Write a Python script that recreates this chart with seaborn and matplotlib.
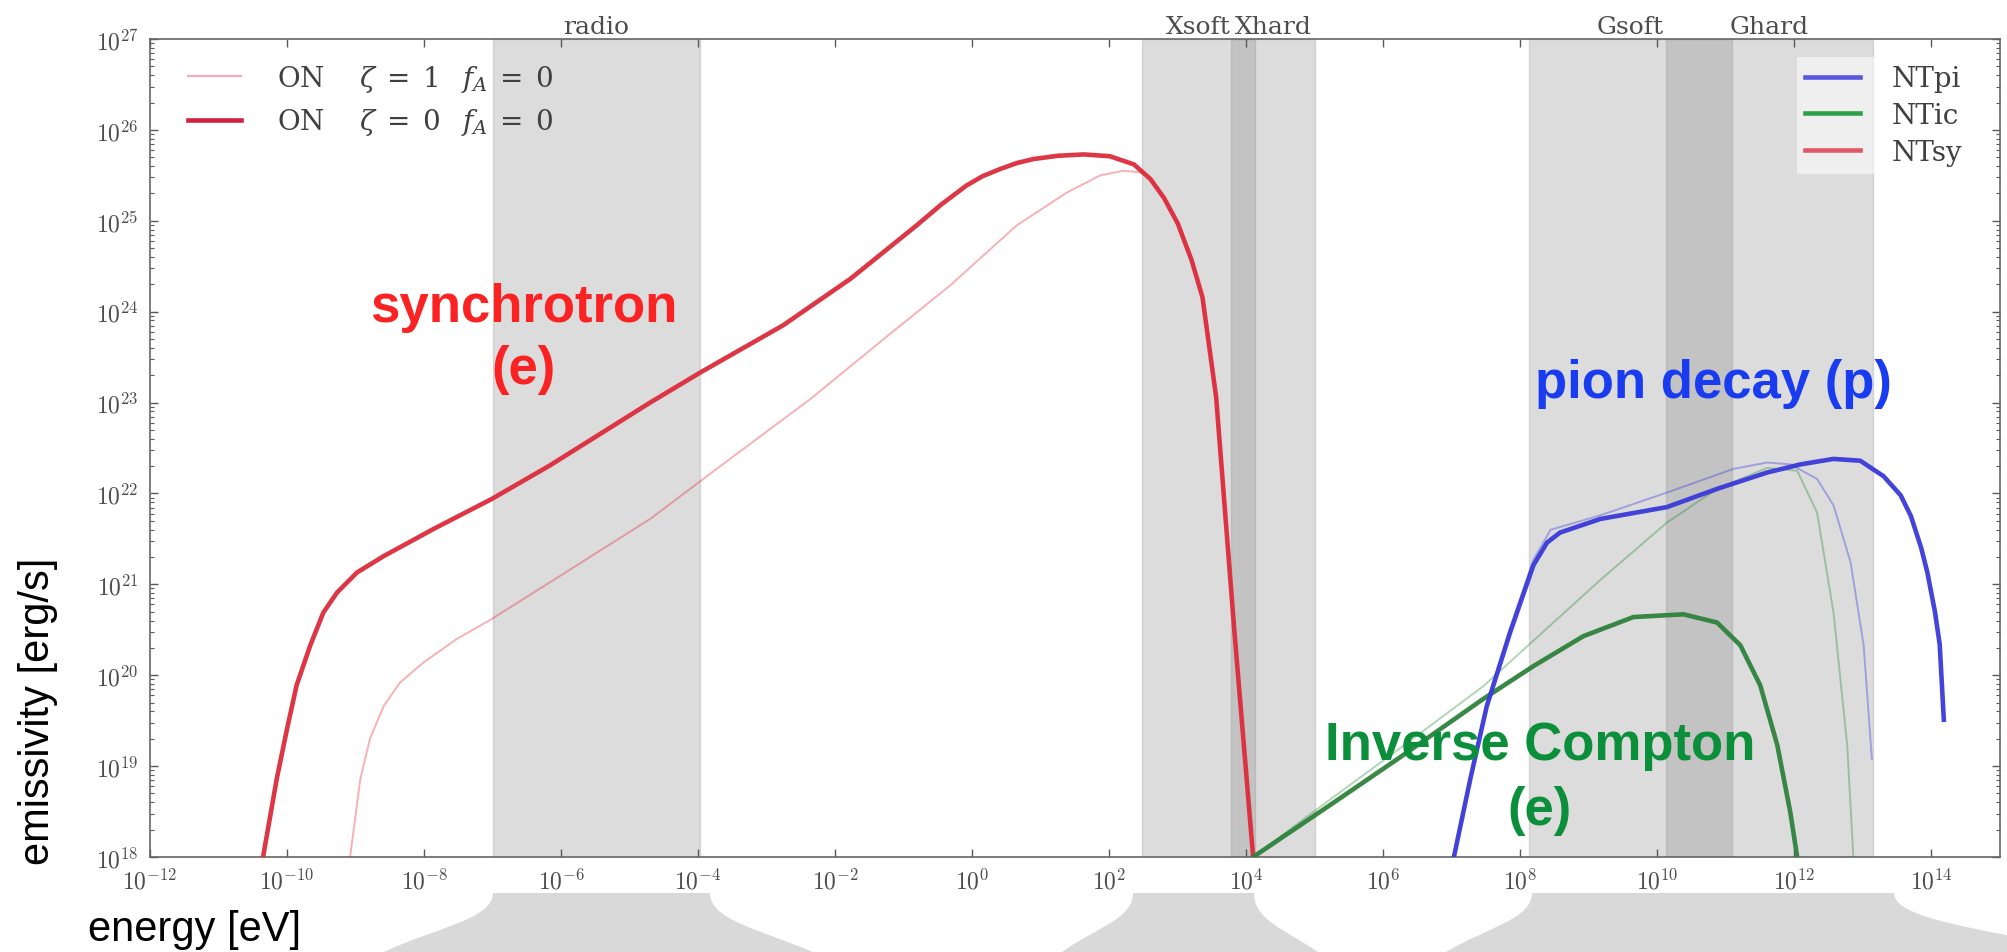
import numpy as np
import matplotlib
matplotlib.use("Agg")
import matplotlib.pyplot as plt
import matplotlib.transforms as mtransforms
from matplotlib.lines import Line2D
from matplotlib.path import Path
from matplotlib.patches import PathPatch
import seaborn as sns

# ---------------- data (log10 values) ----------------
# synchrotron, zeta = 0 (thick) and zeta = 1 (thin)
sy0_logE = [-10.35, -10.15, -10.0, -9.86, -9.66, -9.47, -9.27, -8.98, -8.59, -7.86, -7.01, -6.16, -4.70, -3.97,
            -2.76, -1.78, -0.81, -0.45, -0.08, 0.15, 0.41, 0.65, 0.9, 1.25, 1.63, 2.01, 2.36, 2.6, 2.8, 3.0, 3.2,
            3.36, 3.56, 3.82, 4.1]
sy0_logL = [18.0, 18.86, 19.41, 19.89, 20.33, 20.69, 20.91, 21.13, 21.31, 21.61, 21.94, 22.31, 23.0, 23.33,
            23.85, 24.36, 24.95, 25.18, 25.39, 25.49, 25.57, 25.635, 25.68, 25.715, 25.73, 25.71, 25.62, 25.46,
            25.25, 24.97, 24.57, 24.16, 23.06, 20.54, 18.0]
sy1_logE = [-9.08, -8.93, -8.79, -8.59, -8.35, -8.01, -7.52, -7.01, -6.0, -4.70, -3.5, -2.36, -1.29, -0.32,
            0.65, 1.38, 1.87, 2.21, 2.5, 2.6, 2.8, 3.0, 3.2, 3.36, 3.56, 3.82, 4.1]
sy1_logL = [18.0, 18.86, 19.3, 19.66, 19.92, 20.14, 20.4, 20.62, 21.1, 21.72, 22.4, 23.04, 23.70, 24.29,
            24.95, 25.31, 25.5, 25.55, 25.53, 25.46, 25.25, 24.97, 24.57, 24.16, 23.06, 20.54, 18.0]
# inverse Compton
ic0_logE = [4.1, 5.2, 6.25, 7.46, 8.19, 8.92, 9.65, 10.38, 10.87, 11.21, 11.5, 11.75, 11.94, 12.04]
ic0_logL = [18.0, 18.56, 19.1, 19.74, 20.1, 20.43, 20.64, 20.67, 20.58, 20.33, 19.89, 19.23, 18.49, 18.0]
ic1_logE = [4.1, 5.2, 6.25, 7.46, 8.19, 9.17, 10.14, 10.87, 11.6, 12.04, 12.33, 12.57, 12.77, 12.86]
ic1_logL = [18.0, 18.62, 19.2, 19.88, 20.38, 21.05, 21.68, 22.05, 22.28, 22.25, 21.79, 20.69, 19.23, 18.0]
# pion decay
pi0_logE = [7.03, 7.27, 7.51, 7.85, 8.19, 8.39, 8.58, 9.17, 10.14, 10.87, 11.6, 12.09, 12.57, 12.96,
            13.3, 13.55, 13.7, 13.85, 13.94, 14.05, 14.12, 14.18]
pi0_logL = [18.0, 18.86, 19.66, 20.47, 21.21, 21.46, 21.57, 21.72, 21.85, 22.05, 22.23, 22.32, 22.38, 22.36,
            22.19, 21.98, 21.75, 21.4, 21.13, 20.7, 20.34, 19.51]
pi1_logE = [7.03, 7.27, 7.51, 7.85, 8.19, 8.44, 9.17, 10.14, 11.11, 11.6, 11.94, 12.33, 12.57, 12.82, 13.01, 13.13]
pi1_logL = [18.0, 18.88, 19.7, 20.52, 21.27, 21.6, 21.76, 22.01, 22.27, 22.34, 22.32, 22.16, 21.87, 21.24, 20.33, 19.08]

# energy bands (log10 eV)
band_names = ["radio", "Xsoft", "Xhard", "Gsoft", "Ghard"]
band_lo = [-7.0, 2.48, 3.78, 8.12, 10.12]
band_hi = [-3.97, 4.12, 5.0, 11.09, 13.15]

xtick_exp = list(range(-12, 15, 2))
ytick_exp = list(range(18, 28))

legend_left_labels = [r"ON    $\zeta\;=\;1\;\;\;f_A\;=\;0$", r"ON    $\zeta\;=\;0\;\;\;f_A\;=\;0$"]
legend_right_labels = ["NTpi", "NTic", "NTsy"]

# ---------------- style ----------------
plt.rcParams["mathtext.fontset"] = "cm"
plt.rcParams["axes.unicode_minus"] = False
SERIF = "DejaVu Serif"
SANS = ["Liberation Sans", "DejaVu Sans"]

W, H = 2007, 953
fig = plt.figure(figsize=(W / 100, H / 100), dpi=100)
fig.patch.set_facecolor("white")

ax_l, ax_r, ax_t, ax_b = 150, 2000, 40, 858
ax = fig.add_axes([ax_l / W, 1 - ax_b / H, (ax_r - ax_l) / W, (ax_b - ax_t) / H])


def curve(lx, ly, color, lw, alpha):
    sns.lineplot(x=10.0 ** np.array(lx), y=10.0 ** np.array(ly), ax=ax, color=color, lw=lw,
                 alpha=alpha, sort=False, estimator=None, legend=False, zorder=3)


curve(sy1_logE, sy1_logL, "#e8202e", 1.4, 0.35)
curve(ic1_logE, ic1_logL, "#1f8a30", 1.4, 0.35)
curve(pi1_logE, pi1_logL, "#3030e0", 1.4, 0.35)
curve(sy0_logE, sy0_logL, "#dc2c3c", 3.3, 0.95)
curve(ic0_logE, ic0_logL, "#2e823c", 3.3, 0.95)
curve(pi0_logE, pi0_logL, "#3a3ad8", 3.3, 0.95)

ax.set_xscale("log")
ax.set_yscale("log")
ax.set_xlim(1e-12, 1e15)
ax.set_ylim(1e18, 1e27)

# bands
blend = mtransforms.blended_transform_factory(ax.transData, ax.transAxes)
for name, lo, hi in zip(band_names, band_lo, band_hi):
    ax.axvspan(10.0 ** lo, 10.0 ** hi, facecolor="0.5", edgecolor="0.55", lw=1.0, alpha=0.27, zorder=1)
    ax.text(10.0 ** ((lo + hi) / 2), 1.0155, name, transform=blend, ha="center", va="center",
            fontsize=18, family=SERIF, color="0.3")

# ticks
ax.set_xticks([10.0 ** e for e in xtick_exp])
ax.set_xticklabels([r"$10^{%d}$" % e for e in xtick_exp])
ax.xaxis.set_minor_locator(matplotlib.ticker.NullLocator())
ax.set_yticks([10.0 ** e for e in ytick_exp])
ax.set_yticklabels([r"$10^{%d}$" % e for e in ytick_exp])
ax.yaxis.set_minor_locator(matplotlib.ticker.LogLocator(base=10, subs=np.arange(2, 10), numticks=20))
ax.yaxis.set_minor_formatter(matplotlib.ticker.NullFormatter())
ax.tick_params(which="both", direction="in", top=True, right=True, colors="0.35", labelcolor="0.3")
ax.tick_params(which="major", length=6, width=1, labelsize=17, pad=8)
ax.tick_params(which="minor", length=3, width=0.8)
for s in ax.spines.values():
    s.set_color("0.4")
    s.set_linewidth(1.2)
ax.set_xlabel("")
ax.set_ylabel("")

# legends
hl = [Line2D([], [], color="#eeb0b6", lw=1.6), Line2D([], [], color="#d02040", lw=3.3)]
leg1 = fig.legend(hl, legend_left_labels, loc="upper left", bbox_to_anchor=(188 / W, 1 - 64 / H),
                  frameon=False, borderpad=0, borderaxespad=0, handlelength=1.9, handletextpad=1.3,
                  labelspacing=0.45, prop={"family": SERIF, "size": 20})
for t in leg1.get_texts():
    t.set_color("0.25")
    t.set_math_fontfamily("dejavuserif")
hr = [Line2D([], [], color="#5858e0", lw=3.3), Line2D([], [], color="#30a048", lw=3.3),
      Line2D([], [], color="#e05868", lw=3.3)]
leg2 = fig.legend(hr, legend_right_labels, loc="upper left", bbox_to_anchor=(1797 / W, 1 - 58 / H),
                  frameon=True, framealpha=0.55, facecolor="white", edgecolor="none", fancybox=False,
                  borderpad=0.3, borderaxespad=0, handlelength=1.95, handletextpad=1.15, labelspacing=0.35,
                  prop={"family": SERIF, "size": 20})
for t in leg2.get_texts():
    t.set_color("0.25")


# overlay annotations
def ftxt(px, py, s, **kw):
    fig.text(px / W, 1 - py / H, s, ha="center", va="center", family=SANS, **kw)


ftxt(524, 308, "synchrotron", fontsize=38, weight="bold", color="#fa2222")
ftxt(524, 370, "(e)", fontsize=38, weight="bold", color="#fa2222")
ftxt(1713, 384, "pion decay (p)", fontsize=38, weight="bold", color="#1a3cf0")
ftxt(1540, 746, "Inverse Compton", fontsize=38, weight="bold", color="#0b8f3a")
ftxt(1540, 811, "(e)", fontsize=38, weight="bold", color="#0b8f3a")
ftxt(195, 930, "energy [eV]", fontsize=30)
ftxt(38, 711, "emissivity [erg/s]", fontsize=30, rotation=90)

# gray funnel shapes under the bands (figure pixels)
pix = mtransforms.Affine2D().scale(1 / W, -1 / H).translate(0, 1) + fig.transFigure


def funnel(tl, tr, bl, br, ytop=894, ybot=953):
    h = ybot - ytop
    verts = [(tl, ytop), (tr, ytop),
             (tr, ytop + 0.45 * h), (tr + 0.45 * (br - tr), ytop + 0.6 * h), (br, ybot),
             (bl, ybot),
             (tl - 0.55 * (tl - bl), ytop + 0.6 * h), (tl, ytop + 0.45 * h), (tl, ytop),
             (tl, ytop)]
    codes = [Path.MOVETO, Path.LINETO, Path.CURVE4, Path.CURVE4, Path.CURVE4, Path.LINETO,
             Path.CURVE4, Path.CURVE4, Path.CURVE4, Path.CLOSEPOLY]
    fig.patches.append(PathPatch(Path(verts, codes), transform=pix, facecolor="#d9d9d9",
                                 edgecolor="none", zorder=0))


funnel(493, 710, 384, 813)
funnel(1133, 1254, 1062, 1318)
funnel(1532, 1894, 1446, 2090)

fig.savefig("out.png", dpi=100, facecolor="white")
